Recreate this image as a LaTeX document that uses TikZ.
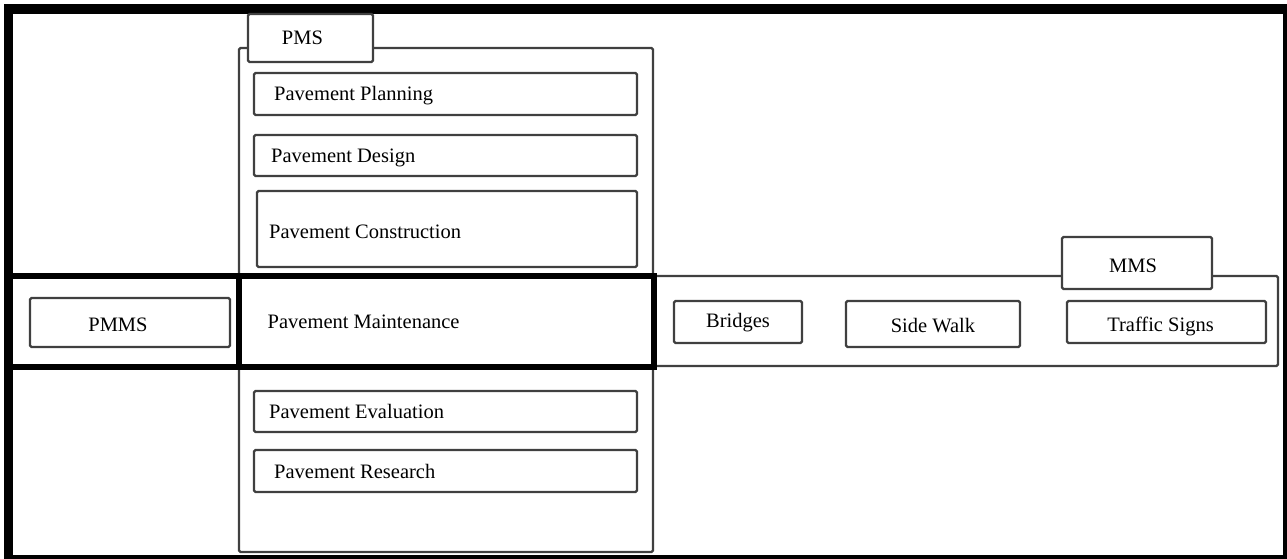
\documentclass[tikz,border=0pt]{standalone}
\usepackage{fontspec}
\setmainfont{Liberation Serif}
\begin{document}
\begin{tikzpicture}[x=1pt,y=-1pt,
  box/.style={draw=black!75, line width=2.4pt, rounded corners=1.5pt, fill=white,
    anchor=north west, inner sep=0pt, outer sep=0pt},
  thick box/.style={draw=black, line width=6pt, anchor=north west, inner sep=0pt, outer sep=0pt},
  txt/.style={font=\fontsize{20.5}{24}\selectfont, inner sep=0pt, text=black},
  ltxt/.style={txt, anchor=west}]
\useasboundingbox (0,0) rectangle (1287,559);
% outer frame
\fill[black] (4,4) rectangle (1287,559);
\fill[white] (13,14) rectangle (1283,555);
% PMS container and tab
\node[box, fill=none, minimum width=414, minimum height=504] (pms) at (239,48) {};
\node[box, minimum width=125, minimum height=48] (pmstab) at (248,14) {};
\node[txt] (pmst) at ([xshift=-8pt]pmstab.center) {PMS};
% PMS items
\node[box, minimum width=383, minimum height=42] (plan) at (254,73) {};
\node[ltxt] (plant) at ([xshift=20pt,yshift=-2pt]plan.west) {Pavement Planning};
\node[box, minimum width=383, minimum height=41] (design) at (254,135) {};
\node[ltxt] (designt) at ([xshift=17pt,yshift=-2pt]design.west) {Pavement Design};
\node[box, minimum width=380, minimum height=76] (constr) at (257,191) {};
\node[ltxt] (constrt) at ([xshift=12pt,yshift=-3pt]constr.west) {Pavement Construction};
\node[box, minimum width=383, minimum height=41] (eval) at (254,391) {};
\node[ltxt] (evalt) at ([xshift=15pt]eval.west) {Pavement Evaluation};
\node[box, minimum width=383, minimum height=42] (res) at (254,450) {};
\node[ltxt] (rest) at ([xshift=20pt]res.west) {Pavement Research};
% MMS container
\node[box, fill=none, minimum width=625, minimum height=90] (mms) at (653,276) {};
\node[box, minimum width=150, minimum height=52] (mmstab) at (1062,237) {};
\node[txt] (mmst) at ([xshift=-4pt,yshift=-3pt]mmstab.center) {MMS};
\node[box, minimum width=128, minimum height=42] (bridges) at (674,301) {};
\node[txt] (bridgest) at ([yshift=-1pt]bridges.center) {Bridges};
\node[box, minimum width=174, minimum height=46] (side) at (846,301) {};
\node[txt] (sidet) at ([yshift=-2pt]side.center) {Side Walk};
\node[box, minimum width=199, minimum height=42] (traffic) at (1067,301) {};
\node[txt] (traffict) at ([xshift=-6pt,yshift=-4pt]traffic.center) {Traffic Signs};
% PMMS row (thick)
\node[thick box, minimum width=230.5, minimum height=91] (pmmsrow) at (8,276) {};
\node[thick box, minimum width=415, minimum height=91] (maint) at (238.5,276) {};
\node[ltxt] (maintt) at ([xshift=29pt]maint.west) {Pavement Maintenance};
\node[box, minimum width=200, minimum height=49] (pmms) at (30,298) {};
\node[txt] (pmmst) at ([xshift=-12pt,yshift=-2pt]pmms.center) {PMMS};
\end{tikzpicture}
\end{document}
